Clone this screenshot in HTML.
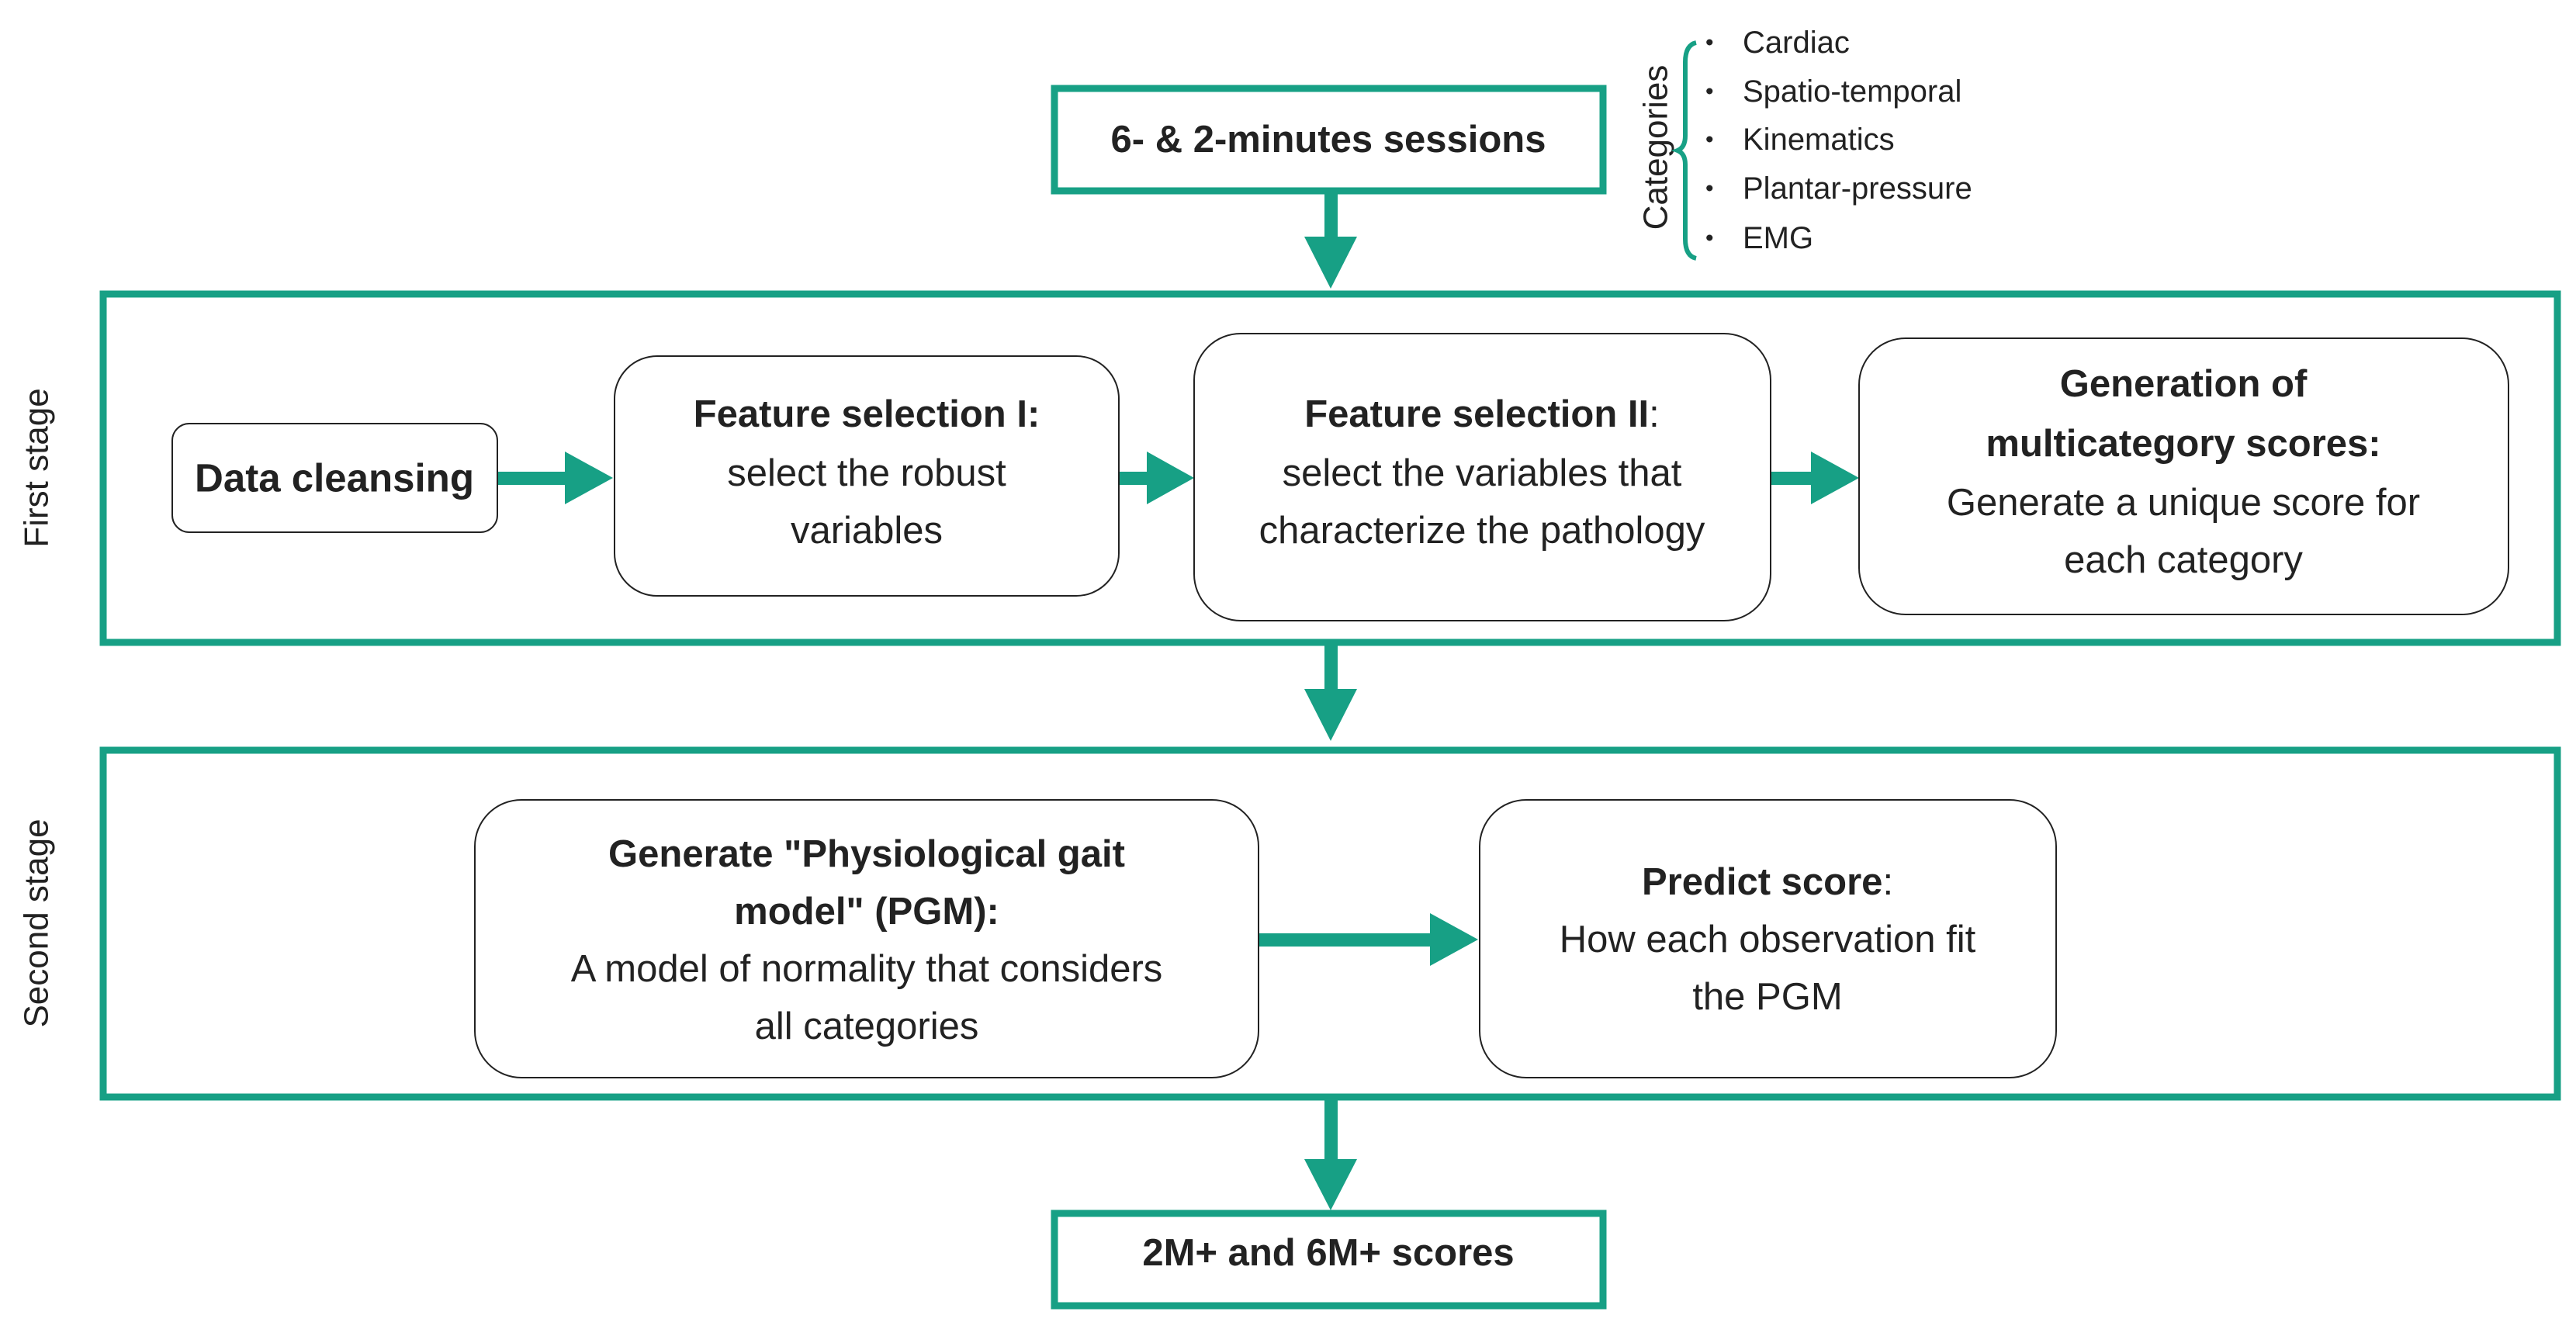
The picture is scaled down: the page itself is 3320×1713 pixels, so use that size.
<!DOCTYPE html>
<html><head><meta charset="utf-8"><style>
html,body{margin:0;padding:0;background:#fff;}
svg{display:block;}
text{font-family:"Liberation Sans",Arial,sans-serif;fill:#222;}
.b{font-weight:bold;}
</style></head><body>
<svg width="3320" height="1713" viewBox="0 0 3320 1713" xmlns="http://www.w3.org/2000/svg">
<g fill="none" stroke="#17a085" stroke-width="9">
<rect x="1359" y="114" width="707" height="132"/>
<rect x="133" y="379" width="3163" height="449"/>
<rect x="133" y="967" width="3163" height="447"/>
<rect x="1359" y="1564" width="707" height="119"/>
</g>
<g fill="#17a085">
<rect x="1707" y="250" width="17" height="60"/><polygon points="1681,305 1749,305 1715,372"/>
<rect x="1707" y="832" width="17" height="60"/><polygon points="1681,888 1749,888 1715,955"/>
<rect x="1707" y="1418" width="17" height="80"/><polygon points="1681,1494 1749,1494 1715,1560"/>
<rect x="641" y="608" width="90" height="17"/><polygon points="728,582 728,650 790,616"/>
<rect x="1442" y="608" width="40" height="17"/><polygon points="1478,582 1478,650 1539,616"/>
<rect x="2282" y="608" width="55" height="17"/><polygon points="2334,582 2334,650 2396,616"/>
<rect x="1622" y="1203" width="225" height="17"/><polygon points="1843,1177 1843,1245 1905,1211"/>
</g>
<g fill="#fff" stroke="#222" stroke-width="2">
<rect x="222" y="546" width="419" height="140" rx="22"/>
<rect x="792" y="459" width="650" height="309" rx="55"/>
<rect x="1539" y="430" width="743" height="370" rx="60"/>
<rect x="2396" y="436" width="837" height="356" rx="60"/>
<rect x="612" y="1031" width="1010" height="358" rx="60"/>
<rect x="1907" y="1031" width="743" height="358" rx="60"/>
</g>
<g font-size="49" text-anchor="middle" dominant-baseline="central">
<text class="b" x="1712" y="180">6- &amp; 2-minutes sessions</text>
<text class="b" x="1712" y="1615">2M+ and 6M+ scores</text>
<text class="b" x="431" y="616" font-size="51">Data cleansing</text>
<text class="b" x="1117" y="534">Feature selection I:</text>
<text x="1117" y="610">select the robust</text>
<text x="1117" y="684">variables</text>
<text x="1910" y="534"><tspan class="b">Feature selection II</tspan>:</text>
<text x="1910" y="610">select the variables that</text>
<text x="1910" y="684">characterize the pathology</text>
<text class="b" x="2814" y="495">Generation of</text>
<text class="b" x="2814" y="572">multicategory scores:</text>
<text x="2814" y="648">Generate a unique score for</text>
<text x="2814" y="722">each category</text>
<text class="b" x="1117" y="1101">Generate "Physiological gait</text>
<text class="b" x="1117" y="1175">model" (PGM):</text>
<text x="1117" y="1249">A model of normality that considers</text>
<text x="1117" y="1323">all categories</text>
<text x="2278" y="1137"><tspan class="b">Predict score</tspan>:</text>
<text x="2278" y="1211">How each observation fit</text>
<text x="2278" y="1285">the PGM</text>
</g>
<g font-size="44" text-anchor="middle" dominant-baseline="central">
<text transform="translate(47,603) rotate(-90)">First stage</text>
<text transform="translate(47,1190) rotate(-90)">Second stage</text>
<text transform="translate(2134,190) rotate(-90)">Categories</text>
</g>
<path d="M2186,55 Q2172,58 2172,80 L2172,175 Q2172,190 2162,194 Q2172,198 2172,212 L2172,308 Q2172,330 2186,333" fill="none" stroke="#17a085" stroke-width="6"/>
<g font-size="40" dominant-baseline="central">
<text x="2198" y="55" font-size="30">•</text><text x="2246" y="55">Cardiac</text>
<text x="2198" y="118" font-size="30">•</text><text x="2246" y="118">Spatio-temporal</text>
<text x="2198" y="180" font-size="30">•</text><text x="2246" y="180">Kinematics</text>
<text x="2198" y="243" font-size="30">•</text><text x="2246" y="243">Plantar-pressure</text>
<text x="2198" y="307" font-size="30">•</text><text x="2246" y="307">EMG</text>
</g>
</svg>
</body></html>
